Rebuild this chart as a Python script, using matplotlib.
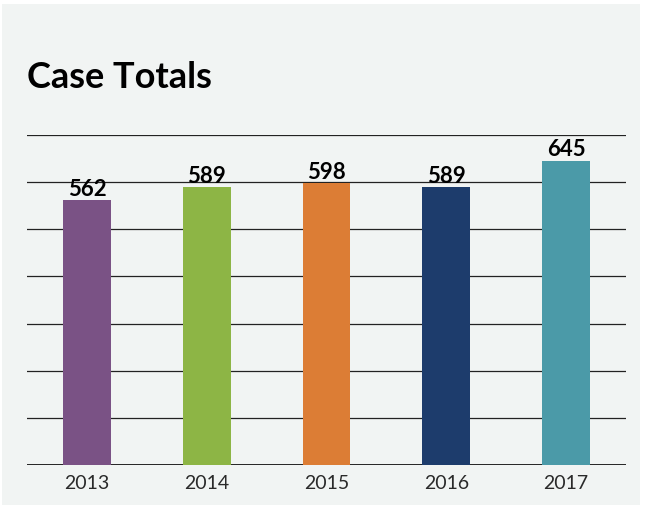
import matplotlib.pyplot as plt
from matplotlib.patches import Rectangle

years = ['2013', '2014', '2015', '2016', '2017']
totals = [562, 589, 598, 589, 645]
colors = ['#7a5285', '#8db545', '#dc7d35', '#1d3c6c', '#4b9aa8']

fig = plt.figure(figsize=(6.48, 5.05), dpi=100)
fig.patch.set_facecolor('white')

# light panel behind everything
fig.patches.append(Rectangle((2 / 648, 0), 638 / 648, 501 / 505,
                             transform=fig.transFigure, facecolor='#f1f4f3',
                             edgecolor='none', zorder=-10))

ax = fig.add_axes([27 / 648, 40 / 505, 599 / 648, 330 / 505])
ax.set_facecolor('none')

ax.bar(range(len(years)), totals, width=0.4, color=colors, zorder=3)
for i, v in enumerate(totals):
    ax.text(i, v + 1, str(v), ha='center', va='bottom', fontsize=16,
            fontweight='bold', family='Lato', zorder=4)

ax.set_xlim(-0.5, 4.5)
ax.set_ylim(0, 700)
ax.set_yticks(range(100, 701, 100))
ax.yaxis.grid(True, color='#222222', linewidth=0.9, zorder=1)
ax.axhline(0, color='#111111', linewidth=2, zorder=2)
ax.set_yticklabels([])
ax.tick_params(axis='y', length=0)
ax.tick_params(axis='x', length=0, pad=7)
ax.set_xticks(range(len(years)))
ax.set_xticklabels(years, fontsize=14, family='Lato', fontweight='normal',
                   color='#2a2a2a')
for s in ax.spines.values():
    s.set_visible(False)

fig.text(27 / 648, 1 - 88 / 505, 'Case Totals', fontsize=26, fontweight='bold',
         family='Lato', ha='left', va='baseline')

fig.savefig('out.png', dpi=100, facecolor=fig.get_facecolor())
